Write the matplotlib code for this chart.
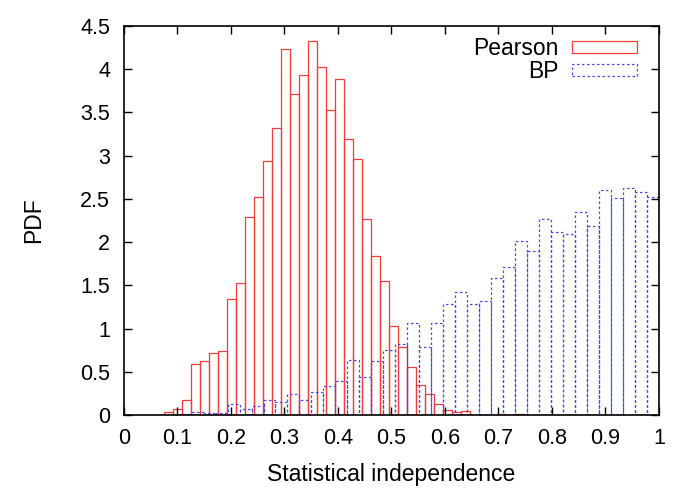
import matplotlib
matplotlib.use('Agg')
import matplotlib.pyplot as plt
from matplotlib.patches import Patch
from matplotlib.ticker import FormatStrFormatter
import numpy as np

# histogram bins (left edge of first bin, bin width) and heights
pearson_start = 0.0756
pearson_width = 0.01682
pearson_pdf = [0.034, 0.068, 0.172, 0.597, 0.632, 0.724, 0.743, 1.338, 1.523, 2.294,
               2.526, 2.939, 3.317, 4.231, 3.714, 3.930, 4.328, 4.03, 3.525, 3.884,
               3.193, 2.958, 2.264, 1.836, 1.550, 1.029, 0.790, 0.558, 0.346, 0.250,
               0.134, 0.057, 0.034, 0.049, 0.0, 0.0, 0.0, 0.01, 0.0, 0.01]

bp_start = 0.104
bp_width = 0.0224
bp_pdf = [0.01, 0.035, 0.025, 0.025, 0.126, 0.076, 0.103, 0.172, 0.153, 0.25,
          0.18, 0.273, 0.342, 0.40, 0.639, 0.447, 0.624, 0.748, 0.824, 1.06,
          0.79, 1.06, 1.28, 1.426, 1.29, 1.325, 1.584, 1.708, 2.009, 1.893,
          2.267, 2.12, 2.10, 2.345, 2.186, 2.607, 2.507, 2.623, 2.58, 2.526]

plt.rcParams['font.family'] = ['Liberation Sans', 'DejaVu Sans']

fig = plt.figure(figsize=(6.85, 4.99), dpi=100)
ax = fig.add_axes([0.181, 0.168, 0.781, 0.780])

red = '#f03c3c'
blue = '#4a4ae0'

x_p = pearson_start + pearson_width * np.arange(len(pearson_pdf))
x_b = bp_start + bp_width * np.arange(len(bp_pdf))

ax.bar(x_p, pearson_pdf, width=pearson_width, align='edge', fill=False,
       edgecolor=red, linewidth=0.9)
ax.bar(x_b, bp_pdf, width=bp_width, align='edge', fill=False,
       edgecolor=blue, linewidth=0.9, linestyle=(0, (2, 2)))

ax.set_xlim(0, 1)
ax.set_ylim(0, 4.5)
ax.set_xticks(np.arange(0, 1.01, 0.1))
ax.set_yticks(np.arange(0, 4.51, 0.5))
ax.xaxis.set_major_formatter(FormatStrFormatter('%g'))
ax.yaxis.set_major_formatter(FormatStrFormatter('%g'))
ax.tick_params(direction='in', top=True, right=True, length=6, width=1,
               labelsize=15.5)
ax.tick_params(axis='x', pad=9)
ax.tick_params(axis='y', pad=10)
for s in ax.spines.values():
    s.set_linewidth(1.2)

ax.set_xlabel('Statistical independence', fontsize=16.5, labelpad=10)
ax.set_ylabel('PDF', fontsize=16.5, labelpad=25)

handles = [Patch(fill=False, edgecolor=red, linewidth=0.9, label='Pearson'),
           Patch(fill=False, edgecolor=blue, linewidth=0.9, linestyle=(0, (2, 2)), label='BP')]
ax.legend(handles=handles, loc='upper right', bbox_to_anchor=(1 - 11 / 535, 1),
          frameon=False, markerfirst=False,
          fontsize=16.5, handlelength=2.8, handleheight=0.45, labelspacing=0.0,
          handletextpad=0.6, borderpad=0.2, borderaxespad=0.3)

fig.savefig('out.png', dpi=100)
